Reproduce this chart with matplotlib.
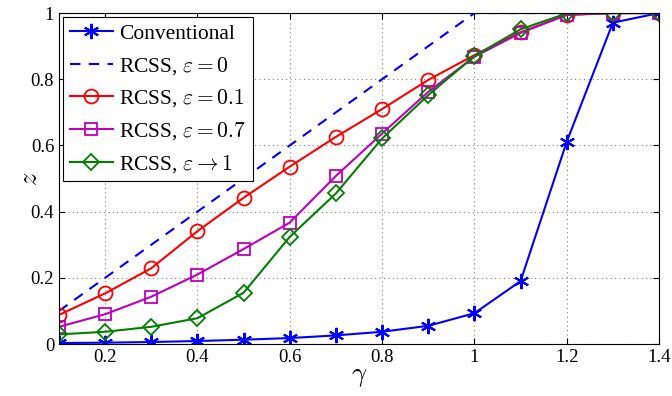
import matplotlib
matplotlib.use('Agg')
import matplotlib.pyplot as plt
from matplotlib.ticker import FuncFormatter

plt.rcParams['font.family'] = ['Liberation Serif', 'DejaVu Serif']
plt.rcParams['mathtext.fontset'] = 'cm'

gamma = [0.1, 0.2, 0.3, 0.4, 0.5, 0.6, 0.7, 0.8, 0.9, 1.0, 1.1, 1.2, 1.3, 1.4]
conventional = [0.003, 0.004, 0.006, 0.009, 0.013, 0.018, 0.026, 0.037, 0.055, 0.093, 0.19, 0.611, 0.971, 1.0]
rcss_eps0 = [0.1, 0.2, 0.3, 0.4, 0.5, 0.6, 0.7, 0.8, 0.9, 1.0, 1.0, 1.0, 1.0, 1.0]
rcss_eps01 = [0.088, 0.153, 0.229, 0.341, 0.442, 0.536, 0.626, 0.71, 0.798, 0.873, 0.942, 0.994, 1.0, 1.0]
rcss_eps07 = [0.052, 0.09, 0.143, 0.21, 0.287, 0.367, 0.508, 0.636, 0.762, 0.868, 0.94, 0.995, 1.0, 1.0]
rcss_eps1 = [0.029, 0.037, 0.052, 0.078, 0.155, 0.324, 0.455, 0.621, 0.752, 0.87, 0.951, 0.999, 1.0, 1.0]

fig = plt.figure(figsize=(6.72, 3.96), dpi=100)
ax = fig.add_axes([0.0878, 0.1313, 0.8929, 0.8357])

ax.plot(gamma, conventional, color='blue', marker=(6, 2, 0), markersize=11, markeredgewidth=1.5,
        linewidth=1.5, label='Conventional')
ax.plot(gamma, rcss_eps0, color='blue', linestyle='--', dashes=(5, 4), linewidth=1.5,
        label=r'RCSS, $\varepsilon = 0$')
ax.plot(gamma, rcss_eps01, color='red', marker='o', markersize=10, markerfacecolor='none',
        markeredgewidth=1.3, linewidth=1.5, label=r'RCSS, $\varepsilon = 0.1$')
ax.plot(gamma, rcss_eps07, color='m', marker='s', markersize=8, markerfacecolor='none',
        markeredgewidth=1.3, linewidth=1.5, label=r'RCSS, $\varepsilon = 0.7$')
ax.plot(gamma, rcss_eps1, color='green', marker='D', markersize=8, markerfacecolor='none',
        markeredgewidth=1.3, linewidth=1.5, label=r'RCSS, $\varepsilon \rightarrow 1$')

ax.set_xlim(0.1, 1.4)
ax.set_ylim(0, 1)
ax.set_xticks([0.2, 0.4, 0.6, 0.8, 1.0, 1.2, 1.4])
ax.set_yticks([0, 0.2, 0.4, 0.6, 0.8, 1.0])
fmt = FuncFormatter(lambda v, p: ('%g' % round(v, 2)))
ax.xaxis.set_major_formatter(fmt)
ax.yaxis.set_major_formatter(fmt)
ax.tick_params(direction='in', top=True, right=True, labelsize=13.5, length=4)
ax.grid(True, linestyle=(0, (1, 3)), color='gray', linewidth=0.8)

ax.set_xlabel(r'$\gamma$', fontsize=19, labelpad=0)
ax.set_ylabel(r'$z$', fontsize=19, labelpad=-8)

leg = ax.legend(loc='upper left', fontsize=15.5, frameon=True, fancybox=False,
                edgecolor='black', handlelength=2.0, borderaxespad=0.2,
                labelspacing=0.5, handletextpad=0.3, borderpad=0.3)
leg.get_frame().set_linewidth(0.8)
leg.get_frame().set_alpha(1)

fig.savefig('out.png', dpi=100)
